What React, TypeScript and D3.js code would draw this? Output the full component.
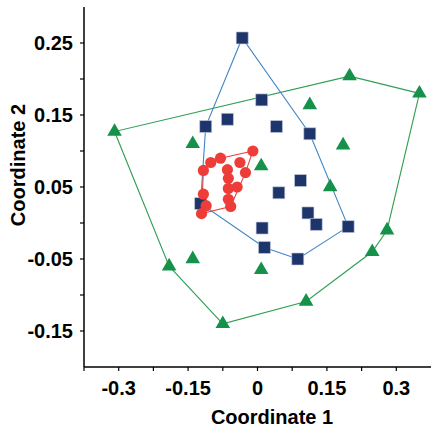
import React from "react";
import * as d3 from "d3";

// Group A (blue squares): [coord1, coord2]
const squaresX = [-0.033, 0.009, -0.112, -0.065, 0.041, 0.113, 0.093, 0.046, 0.109, 0.127, 0.196, 0.010, 0.015, 0.087, -0.123];
const squaresY = [0.257, 0.171, 0.134, 0.144, 0.134, 0.124, 0.059, 0.042, 0.014, -0.002, -0.005, -0.007, -0.034, -0.050, 0.027];

// Group B (green triangles)
const trianglesX = [-0.309, 0.199, 0.350, 0.113, -0.140, 0.185, 0.008, 0.157, 0.280, 0.248, -0.140, -0.191, 0.008, 0.105, -0.075];
const trianglesY = [0.127, 0.204, 0.180, 0.164, 0.110, 0.108, 0.079, 0.050, -0.010, -0.040, -0.050, -0.060, -0.065, -0.109, -0.140];

// Group C (red circles)
const circlesX = [-0.010, -0.080, -0.101, -0.117, -0.038, -0.026, -0.065, -0.063, -0.044, -0.063, -0.117, -0.063, -0.058, -0.111, -0.121];
const circlesY = [0.100, 0.090, 0.084, 0.073, 0.084, 0.070, 0.074, 0.062, 0.050, 0.048, 0.040, 0.033, 0.023, 0.024, 0.013];

const xTicks = [-0.375, -0.3, -0.225, -0.15, -0.075, 0, 0.075, 0.15, 0.225, 0.3];
const xTickLabels = ["-0.3", "-0.15", "0", "0.15", "0.3"];
const xLabelValues = [-0.3, -0.15, 0, 0.15, 0.3];
const yTicks = [-0.15, -0.1, -0.05, 0, 0.05, 0.1, 0.15, 0.2, 0.25];
const yTickLabels = ["-0.15", "-0.05", "0.05", "0.15", "0.25"];
const yLabelValues = [-0.15, -0.05, 0.05, 0.15, 0.25];

const W = 432;
const H = 428;
const FONT = "'Liberation Sans', Arial, Helvetica, sans-serif";

export default function App() {
  const x = d3.scaleLinear().domain([-0.375, 0.375]).range([84, 431]);
  const y = d3.scaleLinear().domain([-0.2, 0.3]).range([367, 7]);

  const toPts = (xs: number[], ys: number[]) =>
    xs.map((v, i) => [x(v), y(ys[i])] as [number, number]);

  const sq = toPts(squaresX, squaresY);
  const tr = toPts(trianglesX, trianglesY);
  const ci = toPts(circlesX, circlesY);

  const hullPath = (pts: [number, number][]) => {
    const h = d3.polygonHull(pts);
    return h ? "M" + h.map((p) => p.join(",")).join("L") + "Z" : "";
  };

  const squareSym = d3.symbol().type(d3.symbolSquare).size(144)()!;
  const triSym = d3.symbol().type(d3.symbolTriangle).size(92)()!;

  return (
    <svg
      width={W}
      height={H}
      style={{ position: "absolute", left: 0, top: 0, background: "#fff" }}
      fontFamily={FONT}
    >
      {/* hulls */}
      <path d={hullPath(tr)} fill="none" stroke="#2f9e52" strokeWidth={1.1} />
      <path d={hullPath(sq)} fill="none" stroke="#3f86c4" strokeWidth={1.1} />
      <path d={hullPath(ci)} fill="none" stroke="#e8413a" strokeWidth={1.1} />

      {/* markers */}
      {tr.map((p, i) => (
        <path key={"t" + i} d={triSym} transform={`translate(${p[0]},${p[1]})`} fill="#16914a" />
      ))}
      {sq.map((p, i) => (
        <path
          key={"s" + i}
          d={squareSym}
          transform={`translate(${p[0]},${p[1]})`}
          fill="#1d356b"
          stroke="#c8d0e0"
          strokeWidth={0.6}
        />
      ))}
      {ci.map((p, i) => (
        <circle key={"c" + i} cx={p[0]} cy={p[1]} r={5.6} fill="#ee3d38" />
      ))}

      {/* axes */}
      <line x1={x(-0.375)} x2={x(-0.375)} y1={y(0.3)} y2={y(-0.2)} stroke="#000" strokeWidth={1.5} />
      <line x1={x(-0.375)} x2={x(0.375)} y1={y(-0.2)} y2={y(-0.2)} stroke="#000" strokeWidth={1.5} />
      {yTicks.map((t, i) => (
        <line key={"yt" + i} x1={x(-0.375) - 4} x2={x(-0.375)} y1={y(t)} y2={y(t)} stroke="#000" strokeWidth={1.2} />
      ))}
      {xTicks.map((t, i) => (
        <line key={"xt" + i} x1={x(t)} x2={x(t)} y1={y(-0.2)} y2={y(-0.2) + 4} stroke="#000" strokeWidth={1.2} />
      ))}
      {yLabelValues.map((v, i) => (
        <text
          key={"yl" + i}
          x={73}
          y={y(v)}
          dy="0.36em"
          textAnchor="end"
          fontSize={20}
          fontWeight="bold"
          fill="#000"
        >
          {yTickLabels[i]}
        </text>
      ))}
      {xLabelValues.map((v, i) => (
        <text
          key={"xl" + i}
          x={x(v)}
          y={395}
          textAnchor="middle"
          fontSize={20}
          fontWeight="bold"
          fill="#000"
        >
          {xTickLabels[i]}
        </text>
      ))}
      <text x={272} y={424} textAnchor="middle" fontSize={20} fontWeight="bold" fill="#000">
        Coordinate 1
      </text>
      <text
        transform={`translate(25,165) rotate(-90)`}
        textAnchor="middle"
        fontSize={20}
        fontWeight="bold"
        fill="#000"
      >
        Coordinate 2
      </text>
    </svg>
  );
}
